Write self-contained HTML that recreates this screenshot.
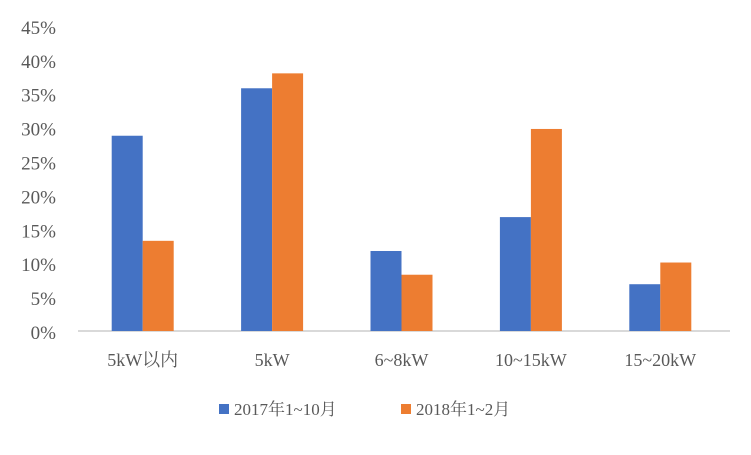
<!DOCTYPE html>
<html><head><meta charset="utf-8"><style>
body{margin:0;background:#fff;}
svg text{font-family:"Liberation Serif","Noto Serif CJK SC",serif;fill:#595959;}
</style></head><body>
<svg width="751" height="450" viewBox="0 0 751 450">
<g id="axis"></g><g id="bars"></g>
<g>
<rect x="219" y="404" width="10" height="10" fill="#4472C4"/>
<text x="234" y="415" font-size="17">2017年1~10月</text>
<rect x="401" y="404" width="10" height="10" fill="#ED7D31"/>
<text x="416" y="415" font-size="17">2018年1~2月</text>
</g>
</svg>
<script>
const categories=["5kW以内","5kW","6~8kW","10~15kW","15~20kW"];
const series2017=[28.8,35.8,11.8,16.8,6.9];
const series2018=[13.3,38.0,8.3,29.8,10.1];
const ticks=[0,5,10,15,20,25,30,35,40,45];
const tickLabels=["0%","5%","10%","15%","20%","25%","30%","35%","40%","45%"];
const NS="http://www.w3.org/2000/svg";
const x0=78,x1=725,y0=331,ppp=6.78;
const bw=(x1-x0)/categories.length;
const y=v=>y0-v*ppp;
const ax=document.getElementById('axis'),bars=document.getElementById('bars');
function mk(t,a,p){const e=document.createElementNS(NS,t);for(const k in a)e.setAttribute(k,a[k]);p.appendChild(e);return e;}
ticks.forEach((t,i)=>{const e=mk('text',{x:56,y:y(t)+8,'font-size':19,'text-anchor':'end'},ax);e.textContent=tickLabels[i];

});
const line=mk('line',{x1:x0,x2:x1+5,y1:y0,y2:y0,stroke:'#D9D9D9','stroke-width':2},ax);


categories.forEach((c,i)=>{const cx=x0+bw*(i+0.5);
const a=mk('rect',{x:cx-31,y:y(series2017[i]),width:31,height:series2017[i]*ppp,fill:'#4472C4'},bars);


const b=mk('rect',{x:cx,y:y(series2018[i]),width:31,height:series2018[i]*ppp,fill:'#ED7D31'},bars);


const t=mk('text',{x:cx,y:366,'font-size':18,'text-anchor':'middle'},ax);t.textContent=c;

});
</script>
</body></html>
